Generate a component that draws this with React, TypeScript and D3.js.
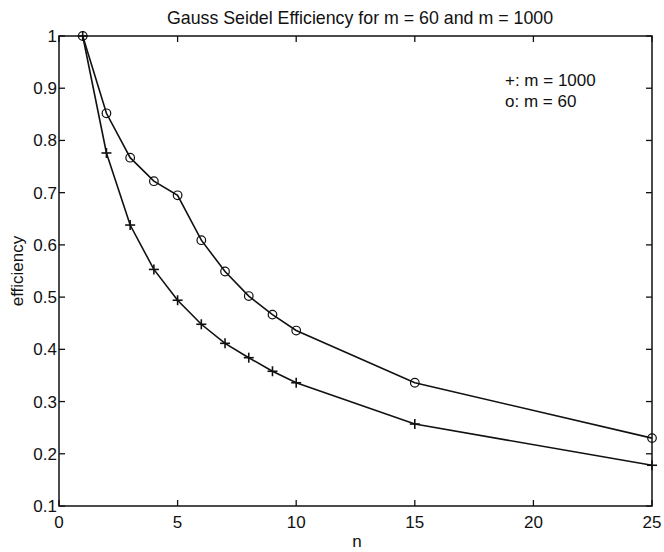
import React from "react";
import * as d3 from "d3";

const nValues = [1, 2, 3, 4, 5, 6, 7, 8, 9, 10, 15, 25];
const effM60 = [1, 0.852, 0.767, 0.722, 0.695, 0.609, 0.549, 0.502, 0.4665, 0.436, 0.336, 0.23];
const effM1000 = [1, 0.776, 0.638, 0.553, 0.494, 0.448, 0.4115, 0.384, 0.358, 0.336, 0.257, 0.178];
const xTicks = [0, 5, 10, 15, 20, 25];
const yTicks = [0.1, 0.2, 0.3, 0.4, 0.5, 0.6, 0.7, 0.8, 0.9, 1];
const legendLines = ["+: m = 1000", "o: m = 60"];
const titleText = "Gauss Seidel Efficiency for m = 60 and m = 1000";

export default function App() {
  const W = 664, H = 552;
  const left = 59, right = 652, top = 36, bottom = 506;
  const x = d3.scaleLinear().domain([0, 25]).range([left, right]);
  const y = d3.scaleLinear().domain([0.1, 1]).range([bottom, top]);
  const line = d3.line<number>().x((_, i) => x(nValues[i])).y((d) => y(d));
  const font = "'Liberation Sans', Arial, Helvetica, sans-serif";
  const ink = "#111";
  const tl = 6;
  return (
    <svg width={W} height={H} style={{ position: "absolute", left: 0, top: 0, background: "#fff" }} fontFamily={font}>
      <rect x={0} y={0} width={W} height={H} fill="#fff" />
      <text x={360} y={24} textAnchor="middle" fontSize={17.8} fill={ink}>{titleText}</text>
      <rect x={left} y={top} width={right - left} height={bottom - top} fill="none" stroke={ink} strokeWidth={1.5} />
      {xTicks.map((t) => (
        <g key={"x" + t}>
          <line x1={x(t)} x2={x(t)} y1={bottom} y2={bottom - tl} stroke={ink} strokeWidth={1.3} />
          <line x1={x(t)} x2={x(t)} y1={top} y2={top + tl} stroke={ink} strokeWidth={1.3} />
          <text x={x(t)} y={bottom + 22} textAnchor="middle" fontSize={17} fill={ink}>{t}</text>
        </g>
      ))}
      {yTicks.map((t) => (
        <g key={"y" + t}>
          <line x1={left} x2={left + tl} y1={y(t)} y2={y(t)} stroke={ink} strokeWidth={1.3} />
          <line x1={right} x2={right - tl} y1={y(t)} y2={y(t)} stroke={ink} strokeWidth={1.3} />
          <text x={left - 2} y={y(t) + 6} textAnchor="end" fontSize={17} fill={ink}>{d3.format("~g")(t)}</text>
        </g>
      ))}
      <text x={357} y={547} textAnchor="middle" fontSize={17} fill={ink}>n</text>
      <text transform={`translate(23, ${(top + bottom) / 2}) rotate(-90)`} textAnchor="middle" fontSize={17} fill={ink}>efficiency</text>
      <path d={line(effM60) || ""} fill="none" stroke={ink} strokeWidth={1.6} />
      <path d={line(effM1000) || ""} fill="none" stroke={ink} strokeWidth={1.6} />
      {effM60.map((v, i) => (
        <circle key={"c" + i} cx={x(nValues[i])} cy={y(v)} r={4.3} fill="none" stroke={ink} strokeWidth={1.2} />
      ))}
      {effM1000.map((v, i) => (
        <g key={"p" + i} stroke={ink} strokeWidth={1.6}>
          <line x1={x(nValues[i]) - 5} x2={x(nValues[i]) + 5} y1={y(v)} y2={y(v)} />
          <line x1={x(nValues[i])} x2={x(nValues[i])} y1={y(v) - 5} y2={y(v) + 5} />
        </g>
      ))}
      {legendLines.map((s, i) => (
        <text key={s} x={505} y={86 + i * 21} fontSize={17} fill={ink}>{s}</text>
      ))}
    </svg>
  );
}
